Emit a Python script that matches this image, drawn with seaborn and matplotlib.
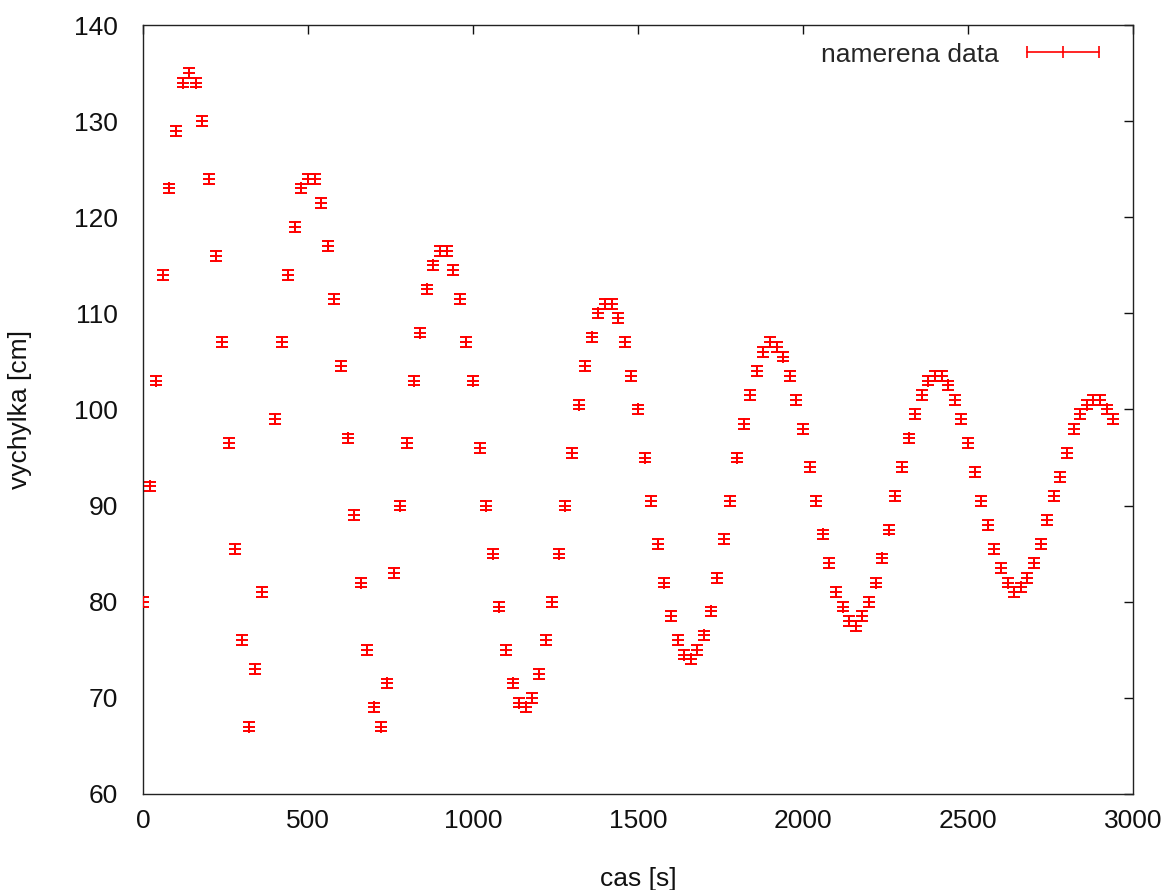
import matplotlib
matplotlib.use("Agg")
import matplotlib.pyplot as plt
from matplotlib.lines import Line2D
import seaborn as sns
import pandas as pd

# measured time [s] (the 380 s reading is missing)
cas = [0, 20, 40, 60, 80, 100, 120, 140, 160, 180, 200, 220, 240, 260, 280,
       300, 320, 340, 360, 400, 420, 440, 460, 480, 500, 520, 540, 560, 580,
       600, 620, 640, 660, 680, 700, 720, 740, 760, 780, 800, 820, 840, 860,
       880, 900, 920, 940, 960, 980, 1000, 1020, 1040, 1060, 1080, 1100, 1120,
       1140, 1160, 1180, 1200, 1220, 1240, 1260, 1280, 1300, 1320, 1340, 1360,
       1380, 1400, 1420, 1440, 1460, 1480, 1500, 1520, 1540, 1560, 1580, 1600,
       1620, 1640, 1660, 1680, 1700, 1720, 1740, 1760, 1780, 1800, 1820, 1840,
       1860, 1880, 1900, 1920, 1940, 1960, 1980, 2000, 2020, 2040, 2060, 2080,
       2100, 2120, 2140, 2160, 2180, 2200, 2220, 2240, 2260, 2280, 2300, 2320,
       2340, 2360, 2380, 2400, 2420, 2440, 2460, 2480, 2500, 2520, 2540, 2560,
       2580, 2600, 2620, 2640, 2660, 2680, 2700, 2720, 2740, 2760, 2780, 2800,
       2820, 2840, 2860, 2880, 2900, 2920, 2940]

# displacement [cm]
vychylka = [80, 92, 103, 114, 123, 129, 134, 135, 134, 130, 124, 116, 107, 96.5, 85.5,
            76, 67, 73, 81, 99, 107, 114, 119, 123, 124, 124, 121.5, 117, 111.5,
            104.5, 97, 89, 82, 75, 69, 67, 71.5, 83, 90, 96.5, 103, 108, 112.5,
            115, 116.5, 116.5, 114.5, 111.5, 107, 103, 96, 90, 85, 79.5, 75, 71.5,
            69.5, 69, 70, 72.5, 76, 80, 85, 90, 95.5, 100.5, 104.5, 107.5,
            110, 111, 111, 109.5, 107, 103.5, 100, 95, 90.5, 86, 82, 78.5,
            76, 74.5, 74, 75, 76.5, 79, 82.5, 86.5, 90.5, 95, 98.5, 101.5,
            104, 106, 107, 106.5, 105.5, 103.5, 101, 98, 94, 90.5, 87, 84,
            81, 79.5, 78, 77.5, 78.5, 80, 82, 84.5, 87.5, 91, 94, 97,
            99.5, 101.5, 103, 103.5, 103.5, 102.5, 101, 99, 96.5, 93.5, 90.5, 88,
            85.5, 83.5, 82, 81, 81.5, 82.5, 84, 86, 88.5, 91, 93, 95.5,
            98, 99.5, 100.5, 101, 101, 100, 99]

chyba = 0.5  # error of each reading [cm]

df = pd.DataFrame({"cas": cas, "vychylka": vychylka})

sns.set_style("white")
plt.rcParams["font.family"] = ["Liberation Sans", "DejaVu Sans"]

fig = plt.figure(figsize=(11.64, 8.9), dpi=100)
ax = fig.add_axes([0.1229, 0.1079, 0.8505, 0.864])

ax.errorbar(df["cas"], df["vychylka"], yerr=chyba, fmt="none", ecolor="red",
            elinewidth=1.4, capsize=4.5, capthick=1.4, zorder=2)
sns.scatterplot(data=df, x="cas", y="vychylka", marker="+", color="red",
                s=75, linewidth=1.4, ax=ax, legend=False, zorder=3)

ax.set_xlim(0, 3000)
ax.set_ylim(60, 140)
ax.set_xticks([0, 500, 1000, 1500, 2000, 2500, 3000])
ax.set_yticks([60, 70, 80, 90, 100, 110, 120, 130, 140])
ax.tick_params(direction="in", length=6.5, width=1, top=True, right=True,
               labelsize=19, colors="#111111")
ax.tick_params(axis="x", pad=11)
ax.tick_params(axis="y", pad=18)
for s in ax.spines.values():
    s.set_color("#222222")
    s.set_linewidth(1.0)

ax.set_xlabel("cas [s]", fontsize=19, color="#111111")
ax.set_ylabel("vychylka [cm]", fontsize=19, color="#111111")
ax.xaxis.set_label_coords(0.5, -0.095)
ax.yaxis.set_label_coords(-0.112, 0.5)

proxy = Line2D([], [], color="red", lw=1.2, marker="|", markersize=9,
               markeredgewidth=1.2)
ax.legend([proxy], ["namerena data"], loc="upper right", frameon=False,
          bbox_to_anchor=(0.988, 0.996),
          numpoints=3, markerfirst=False, handlelength=3.3, handletextpad=0.8,
          borderaxespad=0.25, borderpad=0.3, fontsize=19)

fig.savefig("out.png", dpi=100)
